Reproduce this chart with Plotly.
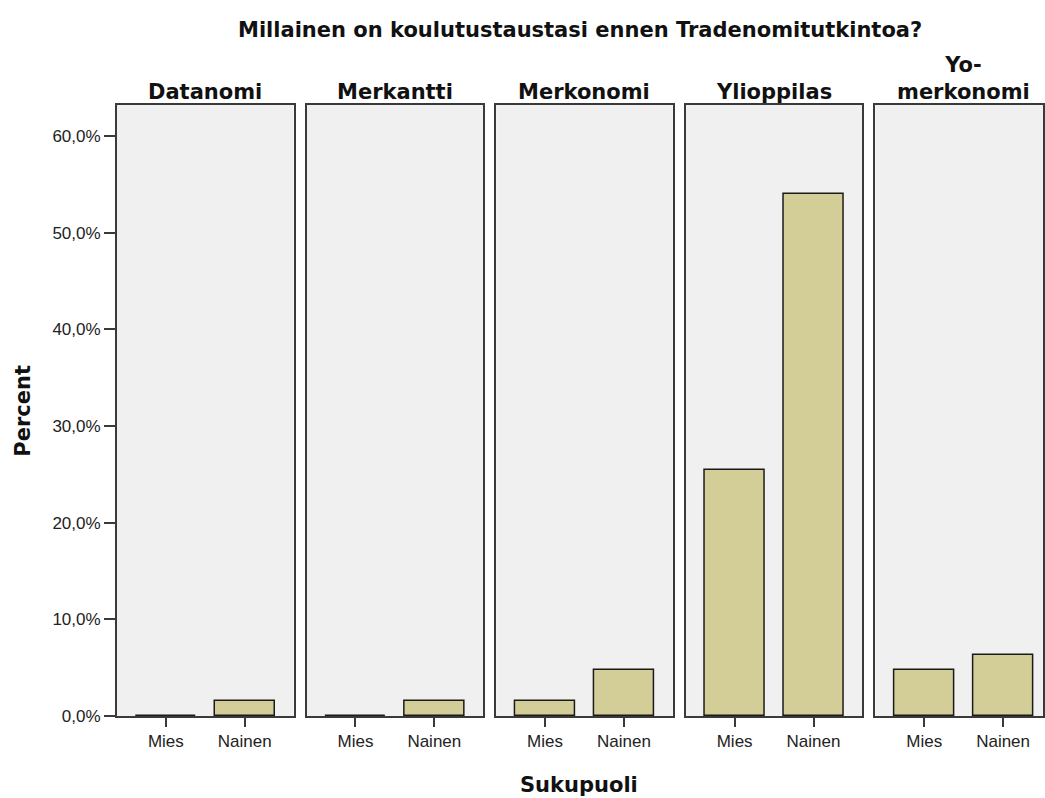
import plotly.graph_objects as go

panels = ["Datanomi", "Merkantti", "Merkonomi", "Ylioppilas", "Yo-<br>merkonomi"]
genders = ["Mies", "Nainen"]
mies = [0.0, 0.0, 1.59, 25.4, 4.76]
nainen = [1.59, 1.59, 4.76, 53.97, 6.35]
ytick_vals = [0, 10, 20, 30, 40, 50, 60]
ytick_text = ["0,0%", "10,0%", "20,0%", "30,0%", "40,0%", "50,0%", "60,0%"]

W, H = 1045, 798
L, R, T, B = 117, 0, 105, 82
pw = W - L - R
ph = H - T - B
panel_w = 177
step = 190
pad = 0.62
unit = panel_w / (1 + 2 * pad)

fig = go.Figure()
frame = "#3a3a3a"
bold_font = dict(family="DejaVu Sans", size=21, color="#111")
tick_font = dict(family="Liberation Sans", size=17, color="#222")
for i, name in enumerate(panels):
    x0 = step * i
    x1 = min(x0 + panel_w, pw)
    xr_hi = -pad + (x1 - x0) / unit
    ax = "" if i == 0 else str(i + 1)
    fig.add_trace(go.Bar(
        x=genders, y=[mies[i], nainen[i]],
        xaxis="x" + ax, yaxis="y" + ax,
        width=60 / unit,
        marker=dict(color="#d3ce97", line=dict(color="#1a1a1a", width=1.5)),
        showlegend=False, hoverinfo="x+y",
    ))
    fig.layout["xaxis" + ax] = dict(
        domain=[x0 / pw, x1 / pw], anchor="y" + ax,
        range=[-pad, xr_hi], type="category",
        showline=True, mirror=True, linecolor=frame, linewidth=2,
        ticks="outside", ticklen=9, tickwidth=2, tickcolor=frame,
        tickfont=tick_font,
        showgrid=False, zeroline=False, fixedrange=True,
    )
    fig.layout["yaxis" + ax] = dict(
        domain=[0, 1], anchor="x" + ax, range=[0, 63.2],
        showline=True, mirror=True, linecolor=frame, linewidth=2,
        tickvals=ytick_vals, ticktext=ytick_text,
        ticks="outside" if i == 0 else "", ticklen=11, tickwidth=2, tickcolor=frame,
        showticklabels=(i == 0),
        tickfont=tick_font,
        showgrid=False, zeroline=False, fixedrange=True,
    )
    cx = (x0 + panel_w / 2) / pw
    fig.add_annotation(
        x=cx, y=1, xref="paper", yref="paper", xanchor="center", yanchor="bottom",
        yshift=-1, text="<b>%s</b>" % name, showarrow=False,
        font=bold_font,
    )

fig.add_annotation(
    x=(581 - L) / pw, y=1 + (T - 30) / ph, xref="paper", yref="paper",
    xanchor="center", yanchor="middle", showarrow=False,
    text="<b>Millainen on koulutustaustasi ennen Tradenomitutkintoa?</b>",
    font=bold_font,
)
fig.add_annotation(
    x=(580 - L) / pw, y=-(785 - (H - B)) / ph, xref="paper", yref="paper",
    xanchor="center", yanchor="middle", showarrow=False,
    text="<b>Sukupuoli</b>",
    font=bold_font,
)
fig.add_annotation(
    x=(22 - L) / pw, y=0.5, xref="paper", yref="paper",
    xanchor="center", yanchor="middle", showarrow=False, textangle=-90,
    text="<b>Percent</b>",
    font=bold_font,
)

fig.update_layout(
    width=W, height=H, margin=dict(l=L, r=R, t=T, b=B, pad=0),
    paper_bgcolor="white", plot_bgcolor="#f0f0f0", bargap=0,
)
fig.write_html(
    "out.html",
    config={"displayModeBar": False},
    post_script="document.body.style.margin='0';document.body.style.overflow='hidden';",
)
